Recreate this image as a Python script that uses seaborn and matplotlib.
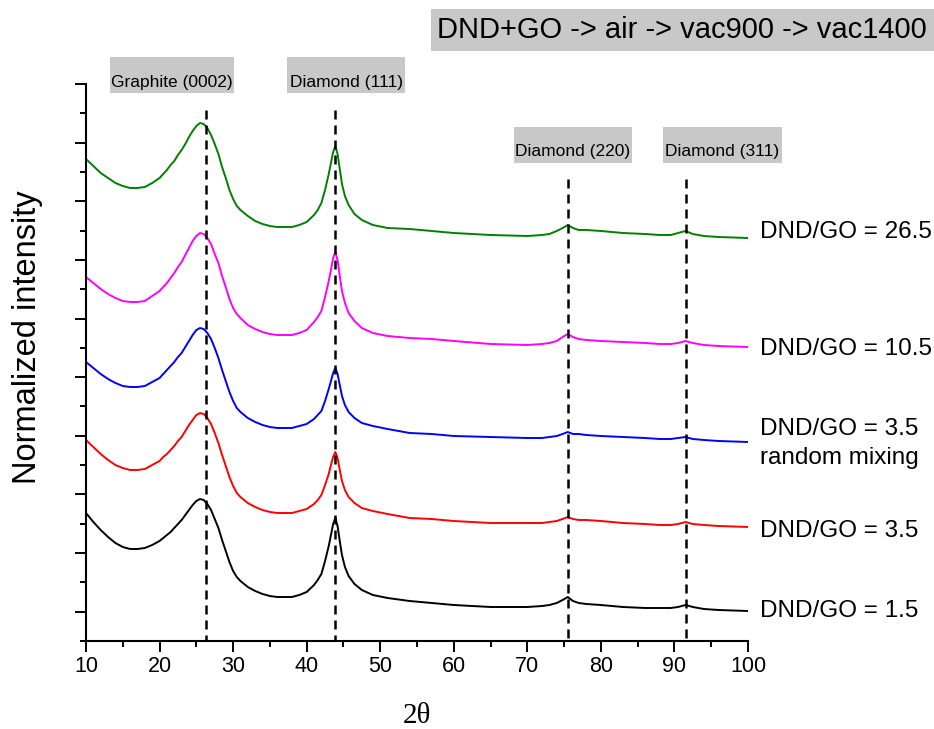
import numpy as np
import pandas as pd
import matplotlib
matplotlib.use("Agg")
import matplotlib.pyplot as plt
import seaborn as sns
from matplotlib.patches import Rectangle

# ---------------- data ----------------
two_theta = [10, 11, 12, 13, 14, 15, 16, 17,
             18, 19, 20, 20.5, 21, 21.5, 22, 22.5, 23, 23.5, 24, 24.5, 25, 25.5,
             26, 26.5, 27, 27.5, 28, 28.5, 29, 29.5, 30, 30.5, 31, 32, 33, 34, 35, 36, 37, 38,
             39, 40, 41, 41.5, 42, 42.5, 43, 43.3, 43.6, 43.9, 44.2, 44.5, 44.8, 45.2, 45.7,
             46.5, 47.5, 49, 51,
             54, 57, 60, 65, 70, 72, 73, 74, 74.8, 75.5, 76.2, 77, 78, 80, 83, 86, 88,
             89.5, 90.5, 91.5, 92.5, 94, 96, 100]

int_dnd_go_1_5 = [128, 119, 111, 104, 98, 94, 92, 92,
                  93, 96, 100, 103, 106, 109, 113, 117, 121, 126, 131, 136, 140, 142,
                  141, 137, 131, 122, 113, 101, 90, 79, 70, 64, 60, 54, 50, 47, 45, 44, 44, 44,
                  46, 49, 56, 61, 67, 80, 95, 106, 117, 123, 115, 100, 86, 74, 65, 57, 51, 46, 43,
                  40, 38, 36, 34, 34, 35, 36, 38, 41, 44, 40, 38, 37, 36, 34, 33, 33, 33, 34, 36,
                  34, 32, 31, 30]

int_dnd_go_3_5 = [201, 194, 187, 181, 176, 173, 171, 171,
                  172, 176, 180, 184, 187, 191, 195, 200, 204, 210, 216, 221, 226, 228,
                  227, 223, 217, 208, 198, 186, 175, 164, 155, 148, 144, 138, 134, 131, 129, 128, 128, 128,
                  130, 132, 137, 141, 146, 156, 167, 176, 184, 189, 183, 171, 160, 151, 144, 138, 133, 130, 127,
                  123, 122, 120, 118, 118, 118, 119, 120, 122, 124, 122, 121, 121, 120, 118, 117, 116, 116,
                  117, 119, 117, 116, 115, 114]

int_dnd_go_3_5_random = [279, 273, 267, 262, 258, 255, 254, 254,
                         255, 259, 263, 267, 271, 275, 279, 284, 288, 294, 300, 306, 311, 313,
                         312, 308, 302, 293, 283, 271, 260, 249, 240, 233, 229, 223, 219, 216, 214, 213, 213, 213,
                         215, 217, 222, 226, 230, 240, 252, 260, 268, 273, 267, 256, 245, 236, 229, 223, 218, 215, 212,
                         208, 207, 205, 204, 203, 203, 204, 205, 207, 209, 207, 207, 206, 205, 204, 203, 202, 202,
                         203, 204, 202, 201, 200, 199]

int_dnd_go_10_5 = [364, 358, 352, 347, 343, 340, 339, 339,
                   340, 345, 350, 354, 358, 363, 368, 374, 379, 386, 393, 400, 405, 408,
                   407, 403, 397, 387, 378, 365, 354, 342, 333, 327, 323, 316, 312, 309, 307, 306, 306, 306,
                   308, 311, 319, 324, 330, 344, 360, 371, 383, 389, 381, 365, 350, 338, 328, 320, 313, 308, 305,
                   303, 302, 300, 297, 296, 297, 298, 300, 304, 307, 304, 302, 301, 300, 299, 298, 297, 297,
                   298, 300, 298, 296, 295, 294]

int_dnd_go_26_5 = [482, 475, 468, 463, 458, 455, 453, 453,
                   454, 458, 463, 467, 471, 476, 480, 486, 491, 497, 504, 510, 515, 518,
                   517, 513, 506, 497, 487, 474, 463, 451, 442, 435, 431, 425, 420, 417, 415, 414, 414, 414,
                   416, 419, 426, 431, 438, 451, 467, 478, 489, 495, 487, 472, 457, 445, 436, 427, 421, 416, 413,
                   412, 410, 408, 406, 405, 406, 407, 410, 413, 416, 413, 411, 411, 410, 408, 407, 406, 406,
                   408, 410, 407, 405, 404, 403]

series_names = ["DND/GO = 1.5", "DND/GO = 3.5", "DND/GO = 3.5\nrandom mixing",
                "DND/GO = 10.5", "DND/GO = 26.5"]
series_colors = ["#000000", "#ff0000", "#0000ff", "#ff00ff", "#008000"]

peak_names = ["Graphite (0002)", "Diamond (111)", "Diamond (220)", "Diamond (311)"]
peak_positions = [26.27, 43.85, 75.48, 91.52]

title_text = "DND+GO -> air -> vac900 -> vac1400"

# ---------------- build long table ----------------
all_series = [int_dnd_go_1_5, int_dnd_go_3_5, int_dnd_go_3_5_random,
              int_dnd_go_10_5, int_dnd_go_26_5]
frames = []
for name, vals in zip(series_names, all_series):
    frames.append(pd.DataFrame({"two_theta": two_theta, "intensity": vals, "sample": name}))
df = pd.concat(frames, ignore_index=True)

# ---------------- figure ----------------
sns.set_theme(style="ticks")
plt.rcParams["font.family"] = ["Liberation Sans", "DejaVu Sans"]
plt.rcParams["text.color"] = "black"
plt.rcParams["xtick.color"] = "black"
plt.rcParams["ytick.color"] = "black"
plt.rcParams["axes.labelcolor"] = "black"
plt.rcParams["xtick.labelsize"] = 15.5

W, H = 934, 729
fig = plt.figure(figsize=(W / 100, H / 100), dpi=100)
fig.patch.set_facecolor("white")


def fx(px):
    return px / W


def fy(py):
    return 1 - py / H


ax = fig.add_axes([fx(86), fy(641), fx(748) - fx(86), fy(84) - fy(641)])
ax.set_facecolor("white")

sns.lineplot(data=df, x="two_theta", y="intensity", hue="sample",
             palette=dict(zip(series_names, series_colors)),
             hue_order=series_names, legend=False, lw=1.4, ax=ax,
             estimator=None, sort=False)

ax.set_xlim(10, 100)
ax.set_ylim(0, 557)
ax.set_xticks(np.arange(10, 101, 10))
ax.set_xticks(np.arange(15, 100, 10), minor=True)
step = 557 / 19
ax.set_yticks([step * k for k in range(1, 20, 2)])
ax.set_yticks([step * k for k in range(0, 20, 2)], minor=True)
ax.tick_params(axis="both", which="major", direction="out", length=8, width=1.4,
               color="black", labelcolor="black", labelsize=15.5, pad=3)
ax.tick_params(axis="both", which="minor", direction="out", length=4.3, width=1.4,
               color="black")
ax.tick_params(axis="y", labelleft=False)
for lab in ax.get_xticklabels():
    lab.set_fontsize(15.5)
    lab.set_color("black")
for s in ["top", "right"]:
    ax.spines[s].set_visible(False)
for s in ["left", "bottom"]:
    ax.spines[s].set_linewidth(1.5)
    ax.spines[s].set_color("black")
ax.set_xlabel("")
ax.set_ylabel("")

# dashed reference lines (drawn from the top down)
dash = (0, (3.6, 2.4))
ax.vlines(peak_positions[:2], 531, 0, colors="black", linestyles=[dash], lw=1.8)
ax.vlines(peak_positions[2:], 462, 0, colors="black", linestyles=[dash], lw=1.8)

# axis labels
fig.text(fx(417), fy(716), "2θ", family=["Liberation Serif", "DejaVu Serif"],
         fontsize=21, ha="center", va="center", color="black")
fig.text(fx(28), fy(337), "Normalized intensity", rotation=90, fontsize=23.5,
         ha="center", va="center", color="black")

# grey label boxes
box_color = "#c8c8c8"
boxes = [(110, 57, 234, 93, 87), (287, 57, 405, 93, 87),
         (514, 127, 632, 163, 156), (663, 127, 782, 163, 156)]
for (x0, y0, x1, y1, base), name in zip(boxes, peak_names):
    fig.add_artist(Rectangle((fx(x0), fy(y1)), fx(x1) - fx(x0), fy(y0) - fy(y1),
                             transform=fig.transFigure, facecolor=box_color,
                             edgecolor="none", zorder=1))
    fig.text(fx((x0 + x1) / 2), fy(base), name, fontsize=12.5, ha="center",
             va="baseline", zorder=2, color="black")

fig.add_artist(Rectangle((fx(431), fy(51)), fx(934) - fx(431), fy(9) - fy(51),
                         transform=fig.transFigure, facecolor=box_color,
                         edgecolor="none", zorder=1))
fig.text(fx(437), fy(38), title_text, fontsize=21, ha="left", va="baseline",
         zorder=2, color="black")

# series labels on the right
label_baselines = [617, 537, 435, 355, 238]
for name, base in zip(series_names, label_baselines):
    lines = name.split("\n")
    for i, ln in enumerate(lines):
        fig.text(fx(760), fy(base + i * 29), ln, fontsize=17.5, ha="left",
                 va="baseline", color="black")

fig.savefig("out.png", dpi=100, facecolor="white")
